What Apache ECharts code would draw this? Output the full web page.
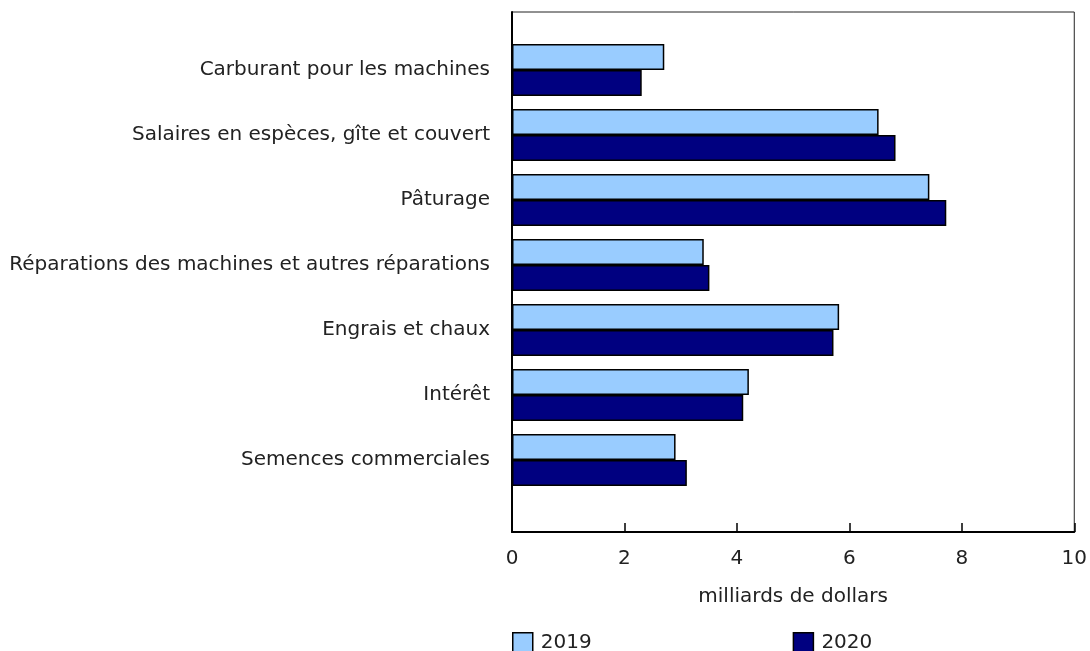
<!DOCTYPE html>
<html>
<head>
<meta charset="utf-8">
<script src="https://cdn.jsdelivr.net/npm/echarts@6/dist/echarts.min.js"></script>
<style>
  html, body { margin: 0; padding: 0; background: #fff; }
  #chart { width: 1090px; height: 651px; }
</style>
</head>
<body>
<div id="chart"></div>
<script>
// catégories, de haut en bas
var categories = [
    "Carburant pour les machines",
    "Salaires en espèces, gîte et couvert",
    "Pâturage",
    "Réparations des machines et autres réparations",
    "Engrais et chaux",
    "Intérêt",
    "Semences commerciales"
];
var values2019 = [2.7, 6.5, 7.4, 3.4, 5.8, 4.2, 2.9];
var values2020 = [2.3, 6.8, 7.7, 3.5, 5.7, 4.1, 3.1];
var xTicks = [0, 2, 4, 6, 8, 10];

var font = "DejaVu Sans";
var textColor = "#222";

var myChart = echarts.init(document.getElementById("chart"));

var option = {
    animation: false,
    textStyle: { fontFamily: font },
    grid: [
        // cadre + axe des x
        { left: 512, top: 12, width: 564, height: 520, show: true, borderColor: "#222", borderWidth: 1 },
        // zone des barres
        { left: 512, top: 37.5, width: 564, height: 455 }
    ],
    legend: {
        data: ["2019", "2020"],
        left: 512,
        top: 632,
        padding: 0,
        itemWidth: 20,
        itemHeight: 20,
        itemGap: 201,
        icon: "rect",
        itemStyle: { borderColor: "#000", borderWidth: 1.5 },
        textStyle: { fontFamily: font, fontSize: 20, color: textColor, padding: [3, 0, 0, 3] }
    },
    xAxis: [
        {
            gridIndex: 0,
            type: "value",
            min: xTicks[0],
            max: xTicks[xTicks.length - 1],
            interval: 2,
            name: "milliards de dollars",
            nameLocation: "middle",
            nameGap: 55,
            nameTextStyle: { fontFamily: font, fontSize: 20, color: textColor },
            axisLine: { show: true, lineStyle: { color: "#000", width: 2 } },
            axisTick: { show: true, inside: true, length: 9, lineStyle: { color: "#000", width: 1.5 } },
            axisLabel: { fontFamily: font, fontSize: 20, color: textColor, margin: 17 },
            splitLine: { show: false }
        },
        {
            gridIndex: 1,
            type: "value",
            min: 0,
            max: 10,
            show: false
        }
    ],
    yAxis: [
        {
            gridIndex: 0,
            type: "value",
            min: 0,
            max: 1,
            axisLine: { show: true, lineStyle: { color: "#000", width: 2 } },
            axisTick: { show: false },
            axisLabel: { show: false },
            splitLine: { show: false }
        },
        {
            gridIndex: 1,
            type: "category",
            inverse: true,
            data: categories,
            axisLine: { show: false },
            axisTick: { show: false },
            axisLabel: { fontFamily: font, fontSize: 20, color: textColor, margin: 22 }
        }
    ],
    series: [
        {
            name: "2019",
            type: "bar",
            xAxisIndex: 1,
            yAxisIndex: 1,
            data: values2019,
            barGap: "0%",
            barCategoryGap: "20%",
            itemStyle: { color: "#99CCFF", borderColor: "#000", borderWidth: 1.5 }
        },
        {
            name: "2020",
            type: "bar",
            xAxisIndex: 1,
            yAxisIndex: 1,
            data: values2020,
            barGap: "0%",
            barCategoryGap: "20%",
            itemStyle: { color: "#000080", borderColor: "#000", borderWidth: 1.5 }
        }
    ]
};

myChart.setOption(option);
</script>
</body>
</html>
